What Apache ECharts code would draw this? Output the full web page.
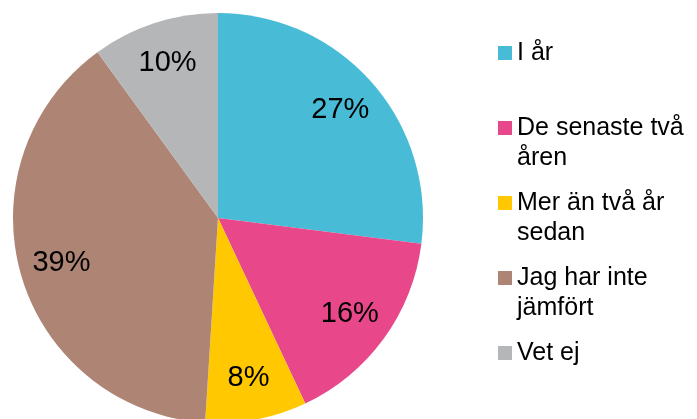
<!DOCTYPE html>
<html>
<head>
<meta charset="utf-8">
<script src="https://cdn.jsdelivr.net/npm/echarts@6/dist/echarts.min.js"></script>
<style>
  html, body { margin: 0; padding: 0; background: #fff; }
  #chart { width: 697px; height: 419px; }
</style>
</head>
<body>
<div id="chart"></div>
<script>
var categories = ["I år", "De senaste två\nåren", "Mer än två år\nsedan", "Jag har inte\njämfört", "Vet ej"];
var values = [27, 16, 8, 39, 10];
var colors = ["#48bcd6", "#e8488a", "#ffc800", "#ae8474", "#b5b6b8"];

var myChart = echarts.init(document.getElementById("chart"));

var pieData = [];
var labelData = [];
for (var i = 0; i < categories.length; i++) {
  pieData.push({ name: categories[i], value: values[i], itemStyle: { color: colors[i] } });
  labelData.push({ name: categories[i], value: values[i] });
}

var option = {
  animation: false,
  textStyle: { fontFamily: "Liberation Sans, Arial, sans-serif" },
  legend: {
    orient: "vertical",
    left: 498,
    top: 8,
    padding: 0,
    itemGap: -15,
    itemWidth: 14,
    itemHeight: 14,
    icon: "rect",
    selectedMode: false,
    data: categories,
    // tom rad före (och efter) så att ikonen hamnar vid första raden
    formatter: function (name) {
      return name.indexOf("\n") >= 0 ? "\n" + name : "\n" + name + "\n";
    },
    textStyle: {
      fontSize: 25,
      lineHeight: 30,
      color: "#000",
      fontFamily: "Liberation Sans, Arial, sans-serif"
    }
  },
  series: [
    {
      type: "pie",
      center: [218, 218],
      radius: [0, 205],
      startAngle: 90,
      silent: true,
      label: { show: false },
      labelLine: { show: false },
      data: pieData
    },
    {
      // bara för etiketterna, placerade längre ut än mitten av tårtbiten
      type: "pie",
      center: [218, 218],
      radius: [115, 205],
      startAngle: 90,
      silent: true,
      itemStyle: { color: "transparent" },
      label: {
        show: true,
        position: "inside",
        formatter: "{c}%",
        fontSize: 29,
        color: "#000",
        fontFamily: "Liberation Sans, Arial, sans-serif"
      },
      labelLine: { show: false },
      data: labelData
    }
  ]
};
myChart.setOption(option);
</script>
</body>
</html>
